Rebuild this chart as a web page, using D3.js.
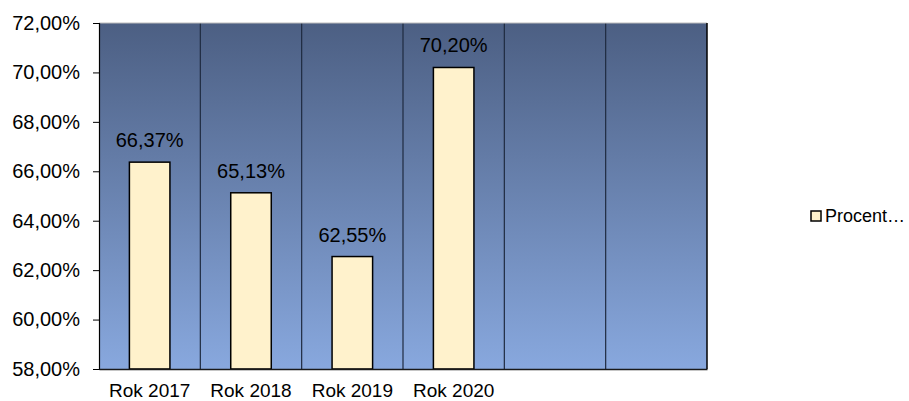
<!DOCTYPE html>
<html>
<head>
<meta charset="utf-8">
<script src="https://cdnjs.cloudflare.com/ajax/libs/d3/7.8.5/d3.min.js"></script>
<style>
  body { margin: 0; background: #fff; }
  text { font-family: "Liberation Sans", Arial, sans-serif; fill: #000; }
</style>
</head>
<body>
<script>
// data
var categories = ["Rok 2017", "Rok 2018", "Rok 2019", "Rok 2020", "", " "];
var values = [66.37, 65.13, 62.55, 70.20, null, null];
var valueLabels = ["66,37%", "65,13%", "62,55%", "70,20%", "", ""];
var yTicks = [58, 60, 62, 64, 66, 68, 70, 72];
var seriesName = "Procent…";

var svg = d3.select("body").append("svg")
            .attr("width", 909)
            .attr("height", 401);

var plotLeft = 99, plotRight = 707, plotTop = 23, plotBottom = 369;

var x = d3.scaleBand()
          .domain(categories)
          .range([plotLeft, plotRight]);

var y = d3.scaleLinear()
          .domain([58, 72])
          .range([plotBottom, plotTop]);

// background gradient
var grad = svg.append("defs").append("linearGradient")
              .attr("id", "bg")
              .attr("x1", 0).attr("y1", 0)
              .attr("x2", 0).attr("y2", 1);
grad.append("stop").attr("offset", "0%").attr("stop-color", "#4c5f83");
grad.append("stop").attr("offset", "100%").attr("stop-color", "#88a8de");

svg.append("rect")
   .attr("x", plotLeft)
   .attr("y", plotTop)
   .attr("width", plotRight - plotLeft)
   .attr("height", plotBottom - plotTop)
   .style("fill", "url(#bg)");

// vertical gridlines between categories
svg.selectAll(".grid")
   .data(categories.slice(1))
   .enter().append("line")
   .attr("x1", function(d){ return x(d); })
   .attr("x2", function(d){ return x(d); })
   .attr("y1", plotTop)
   .attr("y2", plotBottom)
   .style("stroke", "#1f2a40")
   .style("stroke-width", 1.2);

// top border (light)
svg.append("line")
   .attr("x1", plotLeft).attr("x2", plotRight)
   .attr("y1", plotTop).attr("y2", plotTop)
   .style("stroke", "#bdbdbd")
   .style("stroke-width", 1);

// right border
svg.append("line")
   .attr("x1", plotRight).attr("x2", plotRight)
   .attr("y1", plotTop).attr("y2", plotBottom)
   .style("stroke", "#000")
   .style("stroke-width", 1.5);

// bars
var barW = x.bandwidth() * 0.4;
var data = categories.map(function(c, i){ return {c: c, v: values[i], l: valueLabels[i]}; })
                     .filter(function(d){ return d.v != null; });

svg.selectAll(".bar")
   .data(data)
   .enter().append("rect")
   .attr("x", function(d){ return x(d.c) + (x.bandwidth() - barW) / 2; })
   .attr("y", function(d){ return y(d.v); })
   .attr("width", barW)
   .attr("height", function(d){ return plotBottom - y(d.v); })
   .style("fill", "#fff2cc")
   .style("stroke", "#000")
   .style("stroke-width", 1.5);

svg.selectAll(".lbl")
   .data(data)
   .enter().append("text")
   .attr("x", function(d){ return x(d.c) + x.bandwidth() / 2; })
   .attr("y", function(d){ return y(d.v) - 15; })
   .attr("text-anchor", "middle")
   .style("font-size", "20px")
   .text(function(d){ return d.l; });

// y axis
var yAxis = d3.axisLeft(y)
              .tickValues(yTicks)
              .tickSize(6)
              .tickPadding(13)
              .tickFormat(function(d){ return d3.format(".2f")(d).replace(".", ",") + "%"; });

var ya = svg.append("g")
            .attr("transform", "translate(" + plotLeft + ",0)")
            .call(yAxis);
ya.select(".domain").style("stroke", "#000").style("stroke-width", 1.2);
ya.selectAll(".tick line").style("stroke", "#000");
ya.selectAll("text").style("font-size", "20px").style("font-family", "Liberation Sans, Arial, sans-serif");

// x axis
var xAxis = d3.axisBottom(x).tickSize(0).tickPadding(15);
var xa = svg.append("g")
            .attr("transform", "translate(0," + plotBottom + ")")
            .call(xAxis);
xa.select(".domain").style("stroke", "#1a1a1a").style("stroke-width", 1.5);
xa.selectAll("text").style("font-size", "19px").style("font-family", "Liberation Sans, Arial, sans-serif");

// legend
var legend = svg.append("g").attr("transform", "translate(811,211)");
legend.append("rect")
      .attr("width", 10).attr("height", 10)
      .style("fill", "#fff2cc")
      .style("stroke", "#000")
      .style("stroke-width", 1.5);
legend.append("text")
      .attr("x", 14).attr("y", 11)
      .style("font-size", "18px")
      .text(seriesName);
</script>
</body>
</html>
